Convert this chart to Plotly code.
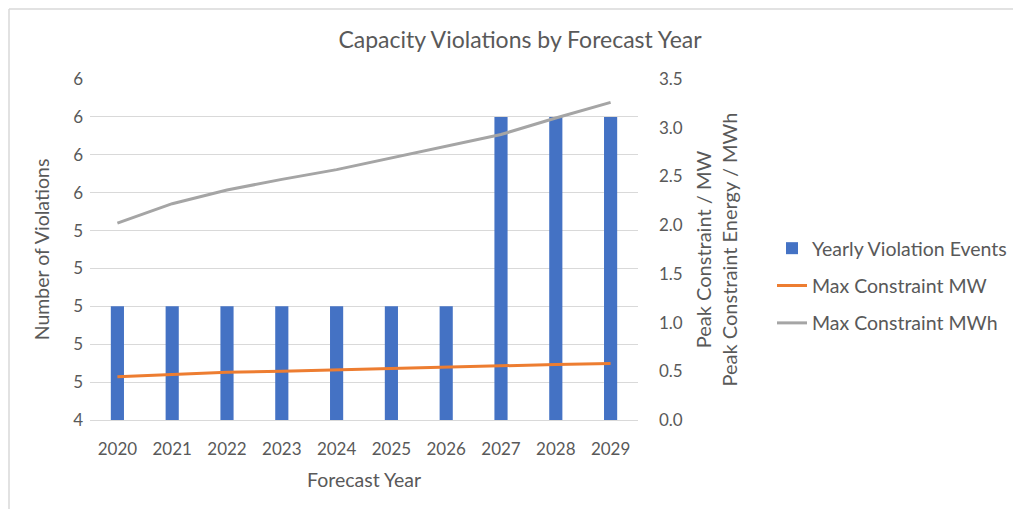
import plotly.graph_objects as go

years = ["2020", "2021", "2022", "2023", "2024", "2025", "2026", "2027", "2028", "2029"]
violation_events = [5, 5, 5, 5, 5, 5, 5, 6, 6, 6]
max_mw = [0.445, 0.47, 0.49, 0.50, 0.515, 0.525, 0.54, 0.555, 0.57, 0.58]
max_mwh = [2.02, 2.22, 2.36, 2.47, 2.57, 2.69, 2.81, 2.93, 3.10, 3.26]

left_ticks = [4.4, 4.6, 4.8, 5.0, 5.2, 5.4, 5.6, 5.8, 6.0, 6.2]
right_ticks = [0.0, 0.5, 1.0, 1.5, 2.0, 2.5, 3.0, 3.5]

FONT = "Lato, 'Open Sans', sans-serif"
TXT = "#595959"

fig = go.Figure()
fig.add_trace(go.Bar(x=years, y=violation_events, name="Yearly Violation Events",
                     marker=dict(color="#4472C4", line=dict(width=0)), width=0.24,
                     legendgroup="a", yaxis="y"))
fig.add_trace(go.Scatter(x=years, y=max_mw, name="Max Constraint MW", mode="lines",
                         line=dict(color="#ED7D31", width=3), legendgroup="b", yaxis="y2"))
fig.add_trace(go.Scatter(x=years, y=max_mwh, name="Max Constraint MWh", mode="lines",
                         line=dict(color="#A5A5A5", width=3), legendgroup="c", yaxis="y2"))

# page has an 8px body offset; target pixel coordinates are shifted accordingly
OX, OY = 8, 8
FW, FH = 1021, 509
L = 90 - OX
T = 79 - OY
R = FW - (638 - OX)
B = FH - (420 - OY)
W, H = FW - L - R, FH - T - B

def px(x):
    return (x - OX - L) / W

def py(y):
    return (FH - B - (y - OY)) / H

fig.update_layout(
    width=FW, height=FH,
    margin=dict(l=L, r=R, t=T, b=B),
    paper_bgcolor="white", plot_bgcolor="white",
    font=dict(family=FONT, color=TXT, size=15),
    title=dict(text="Capacity Violations by Forecast Year", x=(520 - OX) / FW, xanchor="center",
               y=1 - (40 - OY) / FH, yanchor="middle", font=dict(size=23, color=TXT)),
    showlegend=True,
    legend=dict(x=px(772), xanchor="left", y=py(229), yanchor="top",
                traceorder="grouped", tracegroupgap=9, font=dict(size=19.5, color=TXT),
                bgcolor="rgba(0,0,0,0)"),
    xaxis=dict(type="category", range=[-0.5, 9.5], showgrid=False,
               showline=True, linecolor="#D9D9D9", linewidth=1, ticks="",
               tickfont=dict(size=17, color=TXT), ticklabelstandoff=14,
               title=dict(text="Forecast Year", font=dict(size=19.5, color=TXT), standoff=14)),
    yaxis=dict(range=[4.4, 6.2], tickvals=left_ticks, tickformat=".0f",
               showgrid=True, gridcolor="#D9D9D9", gridwidth=1, zeroline=False,
               ticks="", tickfont=dict(size=17, color=TXT), ticklabelstandoff=6,
               title=dict(text="Number of Violations", font=dict(size=19.5, color=TXT), standoff=18)),
    yaxis2=dict(range=[0, 3.5], tickvals=right_ticks, tickformat=".1f", overlaying="y",
                side="right", showgrid=False, zeroline=False, ticks="",
                tickfont=dict(size=17, color=TXT), ticklabelstandoff=20,
                title=dict(text="Peak Constraint / MW<br>Peak Constraint Energy / MWh",
                           font=dict(size=20, color=TXT), standoff=15)),
    shapes=[
        dict(type="line", xref="paper", yref="paper", x0=px(9), x1=px(1040), y0=py(9), y1=py(9),
             line=dict(color="#D9D9D9", width=1.5)),
        dict(type="line", xref="paper", yref="paper", x0=px(9), x1=px(9), y0=py(9), y1=py(530),
             line=dict(color="#D9D9D9", width=1.5)),
    ],
)

fig.write_html("out.html")
